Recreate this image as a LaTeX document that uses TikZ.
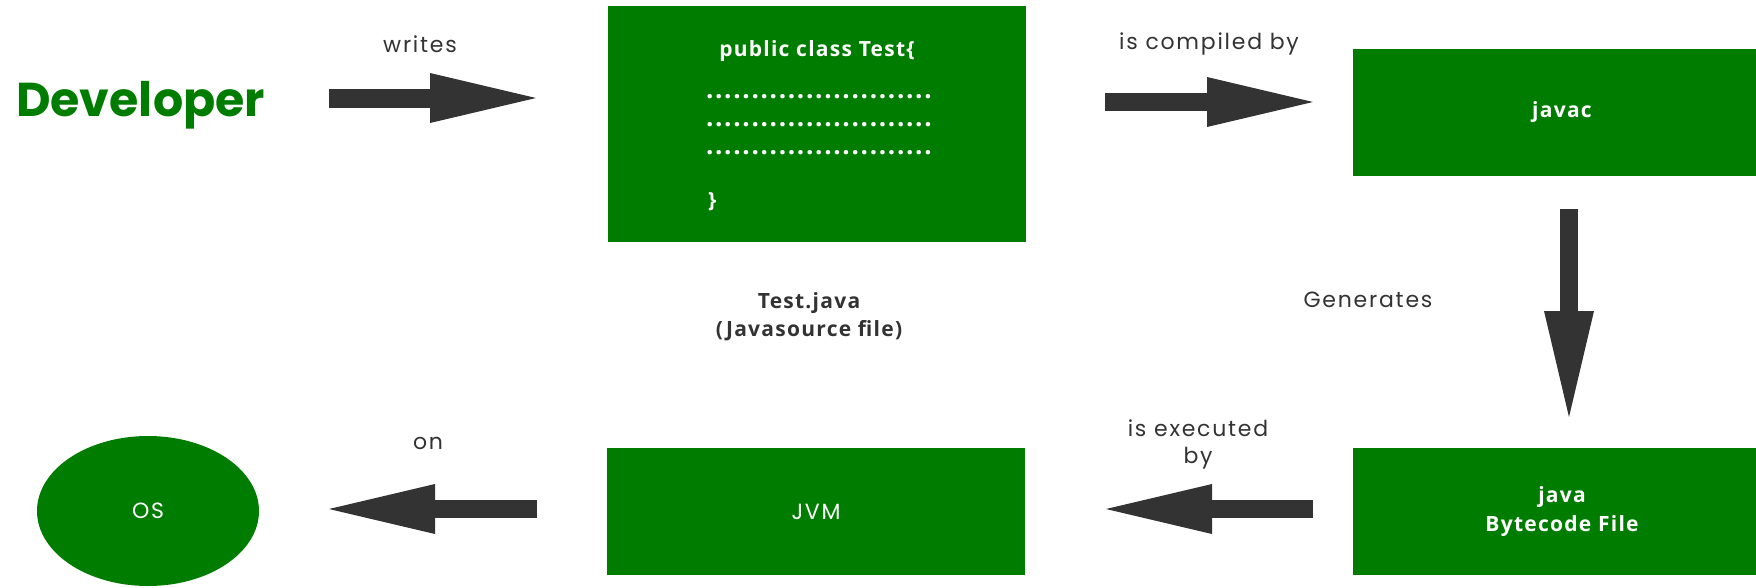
\documentclass[tikz,border=0pt]{standalone}
\usepackage{fontspec}
\usetikzlibrary{arrows.meta,shapes.geometric}
\setmainfont{Poppins}
\newfontfamily\labelfont{Poppins}[LetterSpace=8]
\newfontfamily\boxfont{Open Sans}[LetterSpace=6]
\definecolor{javagreen}{RGB}{0,125,0}
\definecolor{arrowgray}{RGB}{51,51,51}
% one row of placeholder code dots
\newcommand\codedots{\foreach \k in {1,...,25}{\makebox[9.1pt]{.}}}

\begin{document}
\begin{tikzpicture}[x=1pt,y=-1pt,
  greenbox/.style={fill=javagreen, draw=none, minimum width=418pt, inner sep=0pt, outer sep=0pt},
  boxtext/.style={text=white, font=\boxfont\bfseries\fontsize{21}{29}\selectfont, align=center, inner sep=0pt},
  dotrow/.style={boxtext, font=\boxfont\bfseries\fontsize{26}{29}\selectfont, anchor=west},
  steplabel/.style={text=arrowgray, font=\labelfont\fontsize{22}{27}\selectfont, align=center, inner sep=0pt, anchor=base},
  blockarrow/.style={draw=arrowgray, line width=18pt, -{Triangle[length=106pt,width=50pt,line width=0pt]}},
]
\fill[white] (0,0) rectangle (1756,587);
\clip (0,0) rectangle (1756,587);

% actor
\node[text=javagreen, font=\fontsize{47.5}{56}\selectfont\bfseries, anchor=base west, inner sep=0pt] (dev) at (16,116) {Developer};

% source file
\node[greenbox, minimum height=236pt] (src) at (817,124) {};
\node[boxtext, anchor=base] (srchead) at (817,56) {public class Test\{};
\node[dotrow] (dots1) at (705,97) {\codedots};
\node[dotrow] (dots2) at (705,125) {\codedots};
\node[dotrow] (dots3) at (705,153) {\codedots};
\node[boxtext, anchor=base west] (srcclose) at (708,207) {\}};
\node[boxtext, text=arrowgray, font=\boxfont\bfseries\fontsize{21}{28}\selectfont, anchor=base] (srcname) at (809,336) {Test.java\\(Javasource file)};

% compiler, bytecode, virtual machine, operating system
\node[greenbox, minimum height=127pt, boxtext] (javac) at (1562,112.5) {javac};
\node[greenbox, minimum height=127pt, boxtext] (bytecode) at (1562,511.5) {java\\Bytecode File};
\node[greenbox, minimum height=127pt, text=white, font=\labelfont\fontsize{22}{26}\selectfont] (jvm) at (816,511.5) {JVM};
\node[ellipse, fill=javagreen, minimum width=222pt, minimum height=150pt, inner sep=0pt, text=white, font=\labelfont\fontsize{22}{26}\selectfont] (os) at (148,511) {OS};

% arrow ends
\coordinate (writesA) at (329,98);
\coordinate (writesB) at (536,98);
\coordinate (compA) at (1105,102);
\coordinate (compB) at (1313,102);
\coordinate (genA) at (1569,209);
\coordinate (genB) at (1569,417);
\coordinate (execA) at (1313,509);
\coordinate (execB) at (1106,509);
\coordinate (onA) at (537,509);
\coordinate (onB) at (329,509);

\draw[blockarrow, line width=19pt] (writesA) -- (writesB);
\draw[blockarrow] (compA) -- (compB);
\draw[blockarrow] (genA) -- (genB);
\draw[blockarrow] (execA) -- (execB);
\draw[blockarrow] (onA) -- (onB);

% arrow labels
\node[steplabel] (writes) at (420,52) {writes};
\node[steplabel] (compiled) at (1209,49) {is compiled by};
\node[steplabel] (generates) at (1368,307) {Generates};
\node[steplabel] (executed) at (1198,463) {is executed\\by};
\node[steplabel] (on) at (428,449) {on};
\end{tikzpicture}
\end{document}
